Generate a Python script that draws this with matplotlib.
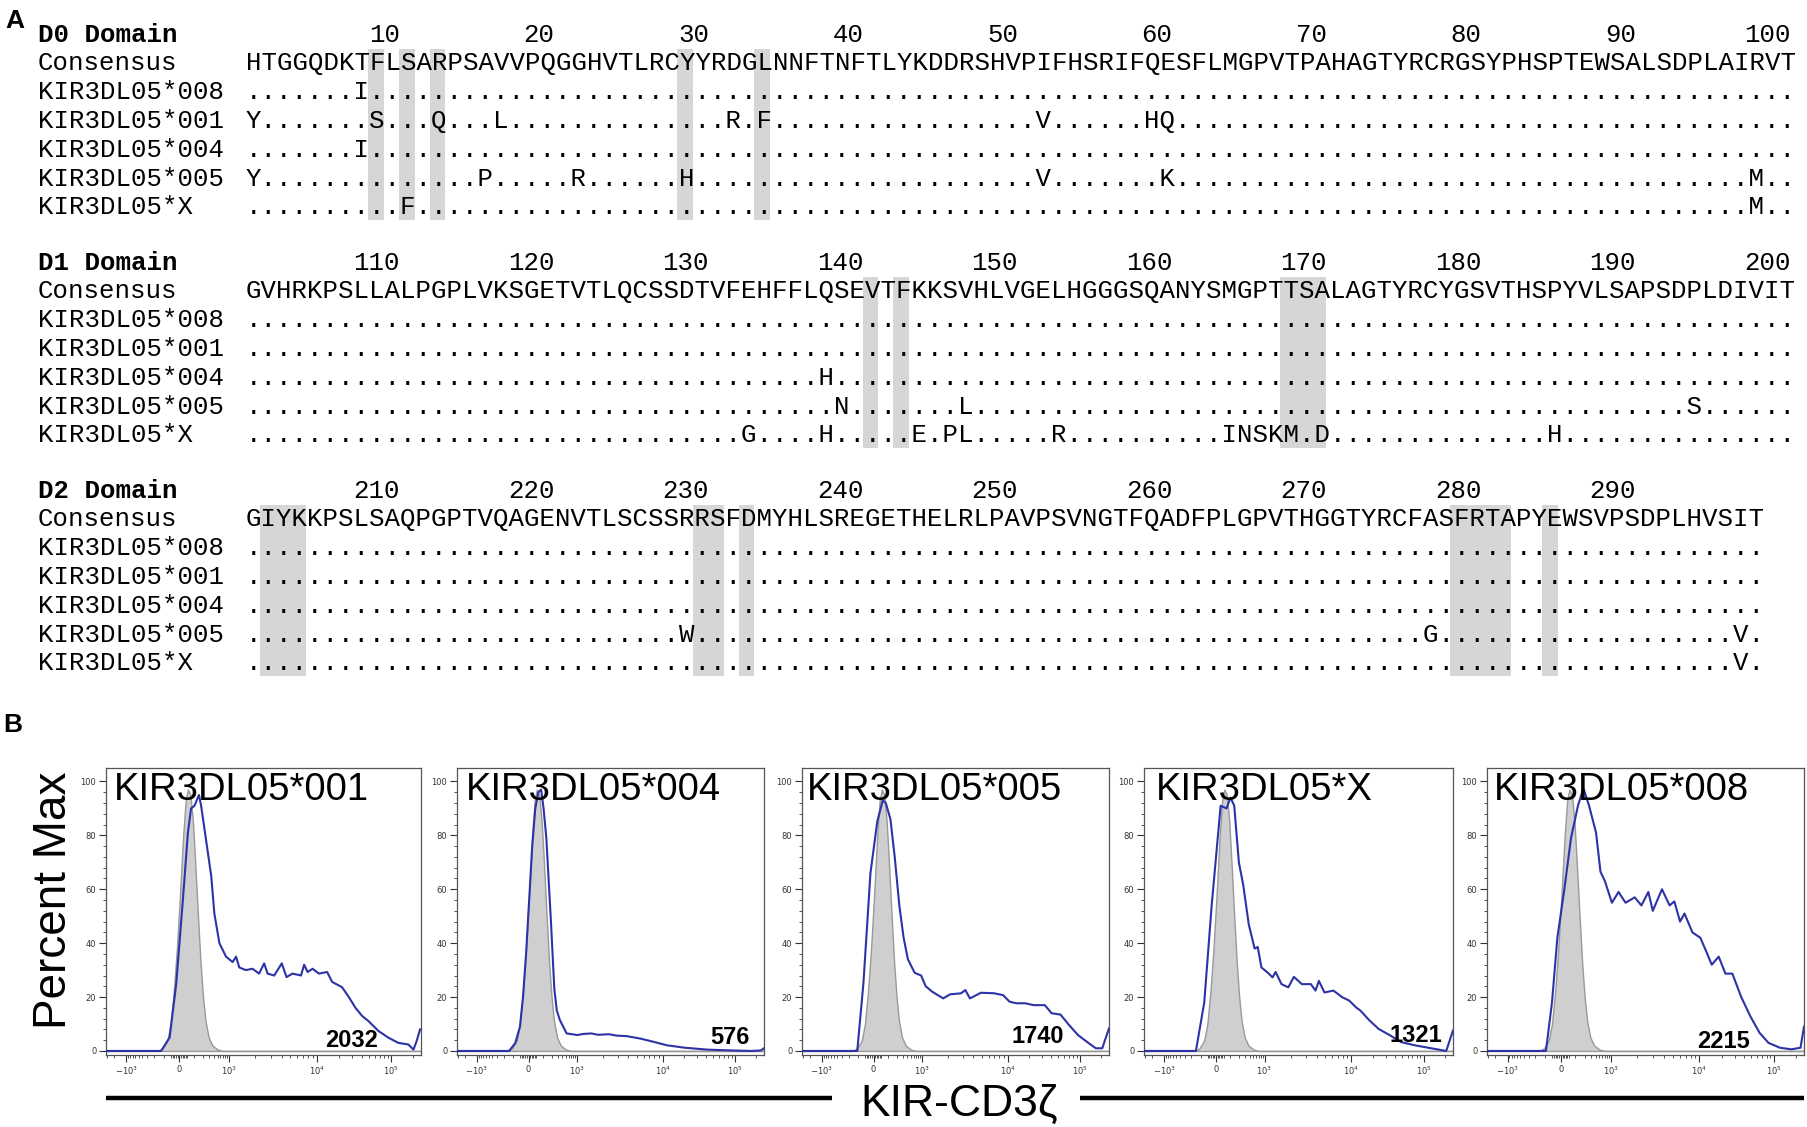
import numpy as np
import matplotlib
matplotlib.use('Agg')
import matplotlib.pyplot as plt
from matplotlib.patches import Rectangle
from matplotlib import font_manager

# ---------------- panel A: alignment ----------------
domains = ['D0 Domain', 'D1 Domain', 'D2 Domain']
domain_offset = [0, 100, 200]
consensus = [
    'HTGGQDKTFLSARPSAVVPQGGHVTLRCYYRDGLNNFTNFTLYKDDRSHVPIFHSRIFQESFLMGPVTPAHAGTYRCRGSYPHSPTEWSALSDPLAIRVT',
    'GVHRKPSLLALPGPLVKSGETVTLQCSSDTVFEHFFLQSEVTFKKSVHLVGELHGGGSQANYSMGPTTSALAGTYRCYGSVTHSPYVLSAPSDPLDIVIT',
    'GIYKKPSLSAQPGPTVQAGENVTLSCSSRRSFDMYHLSREGETHELRLPAVPSVNGTFQADFPLGPVTHGGTYRCFASFRTAPYEWSVPSDPLHVSIT',
]
alleles = ['KIR3DL05*008', 'KIR3DL05*001', 'KIR3DL05*004', 'KIR3DL05*005', 'KIR3DL05*X']

# substitutions per domain, position within domain (1-based)
subs_d0 = {
    'KIR3DL05*008': {8: 'I'},
    'KIR3DL05*001': {1: 'Y', 9: 'S', 13: 'Q', 17: 'L', 32: 'R', 34: 'F', 52: 'V', 59: 'H', 60: 'Q'},
    'KIR3DL05*004': {8: 'I'},
    'KIR3DL05*005': {1: 'Y', 16: 'P', 22: 'R', 29: 'H', 52: 'V', 60: 'K', 98: 'M'},
    'KIR3DL05*X': {11: 'F', 98: 'M'},
}
subs_d1 = {
    'KIR3DL05*008': {},
    'KIR3DL05*001': {},
    'KIR3DL05*004': {38: 'H'},
    'KIR3DL05*005': {39: 'N', 47: 'L', 94: 'S'},
    'KIR3DL05*X': {33: 'G', 38: 'H', 44: 'E', 46: 'P', 47: 'L', 53: 'R', 64: 'I', 65: 'N',
                   66: 'S', 67: 'K', 68: 'M', 70: 'D', 85: 'H'},
}
subs_d2 = {
    'KIR3DL05*008': {},
    'KIR3DL05*001': {},
    'KIR3DL05*004': {},
    'KIR3DL05*005': {29: 'W', 77: 'G', 97: 'V'},
    'KIR3DL05*X': {97: 'V'},
}
subs = [subs_d0, subs_d1, subs_d2]

# shaded columns (first, last) within each domain
bands = [
    [(9, 9), (11, 11), (13, 13), (29, 29), (34, 34)],
    [(41, 41), (43, 43), (68, 70)],
    [(2, 4), (30, 31), (33, 33), (79, 82), (85, 85)],
]

# ---------------- panel B: histograms ----------------
# x in display channels (0-100), y in percent of max
panel_names = ['KIR3DL05*001', 'KIR3DL05*004', 'KIR3DL05*005', 'KIR3DL05*X', 'KIR3DL05*008']
panel_counts = ['2032', '576', '1740', '1321', '2215']

ctrl_x = [0, 16.5, 18, 19.5, 20.5, 21.5, 22.5, 23.5, 24.5, 25.3, 26, 26.8, 27.6, 28.4, 29.2,
          30, 30.8, 31.6, 32.6, 33.8, 35.5, 37, 100]
ctrl_y = [0, 0, 1, 4, 10, 22, 38, 58, 80, 93, 97, 95, 85, 68, 50, 33, 20, 11, 5, 2, 0.5, 0, 0]

b001_x = [0, 17.5, 20.2, 22.3, 24.4, 26, 27, 28.1, 29.5, 30.2, 31.8, 33.4, 34.4, 36, 38.1, 40.2,
          41.3, 42.3, 44.4, 46.5, 48.6, 50.2, 51.3, 53.4, 55.8, 57.3, 59.2, 61.9, 62.9, 64, 65.6,
          67.6, 70.2, 71.8, 74.9, 77.1, 79.2, 81.3, 83.4, 86.5, 89.7, 92.8, 96, 97.6, 98.6, 99.7]
b001_y = [0, 0, 5, 25, 56, 81, 90, 91, 95, 91, 78, 65, 51, 40, 35, 33, 35, 31, 30, 30.5, 28.7,
          32.5, 28.7, 28, 32.5, 27.4, 28.7, 28, 32, 29.3, 30.5, 28.7, 29.3, 25.6, 23.7, 20, 16, 13,
          11, 7.4, 4.9, 3, 2.4, 0.5, 3.6, 8]

b004_x = [0, 17, 19, 20.5, 21.5, 22.5, 23.5, 24.5, 25.5, 26.5, 27.4, 28.2, 29.1, 30.6, 31.7, 32.5,
          33.5, 35.7, 39.3, 41, 43.7, 46, 49.5, 52, 55.3, 59.7, 64, 68.4, 74.2, 81.5, 88.8, 96,
          99, 100]
b004_y = [0, 0, 3, 9, 20, 36, 56, 76, 90, 96, 97, 90, 79, 48, 23, 15, 11.5, 6.5, 5.9, 6.3, 6.5,
          6.0, 6.2, 5.7, 5.5, 4.6, 3.4, 2.1, 1.2, 0.5, 0.2, 0, 0.2, 1]

b005_x = [0, 18, 20, 22.3, 24.5, 26.3, 27.3, 28.8, 30.2, 31.7, 33.1, 34.5, 36.7, 38.8, 40.3, 42.4,
          46, 48.2, 51.8, 53.2, 54.7, 58.3, 62.6, 65.5, 67.6, 69.8, 72.7, 75.5, 79.1, 81.3, 84.2,
          87, 89.9, 93.5, 95.7, 97.8, 100]
b005_y = [0, 0, 25, 66, 85, 93, 92, 86, 72, 54, 42, 34, 29, 28, 24, 22, 19.5, 21, 21.4, 22.6,
          19.5, 21.6, 21.4, 20.7, 18.3, 17.7, 17.7, 17, 17, 14, 13.5, 9.6, 5.9, 2.8, 1, 1, 8.4]

bX_x = [0, 16.8, 19.5, 21.9, 24.8, 26.7, 28, 29.2, 30.7, 32.1, 33.9, 35.8, 36.8, 38, 40.1, 41.6,
        42.6, 44.5, 46.7, 48.5, 51.1, 54, 55.5, 56.6, 58.4, 61.3, 64.2, 66.4, 68.6, 70, 73, 75.9,
        79.6, 83.2, 87.6, 93.4, 97.8, 100]
bX_y = [0, 0, 18, 54, 91, 90, 94, 91, 70, 61.7, 47, 38, 38.6, 31, 29, 27.3, 29.3, 24.8, 23.6,
        27.5, 24.8, 24.8, 22.4, 26, 21.7, 22.4, 19.9, 18.7, 16.2, 15, 11.3, 8.2, 5.8, 3.3, 2.1,
        0.9, 0, 7.6]

b008_x = [0, 18.6, 20.5, 22.2, 24.4, 26.5, 28.7, 30.4, 32.2, 34.4, 35.8, 37.2, 39.4, 41.5, 43.7,
          46.6, 48.7, 50.9, 52.3, 55.2, 57.6, 59.1, 60.9, 62.3, 64.8, 67.3, 69.5, 70.9, 73.1, 75.2,
          77.4, 80.2, 83.1, 86, 88.8, 92.4, 96, 98.9, 100]
b008_y = [0, 0, 18, 42, 60, 79, 91, 97.5, 91, 81, 66.5, 63, 55, 59, 55, 57, 54, 59, 52, 60, 54,
          55.5, 48, 51, 44, 42, 36, 32, 35, 28.7, 28.7, 20, 12.8, 6.7, 3, 1.2, 0.6, 1.2, 9]

blue_x = [b001_x, b004_x, b005_x, bX_x, b008_x]
blue_y = [b001_y, b004_y, b005_y, bX_y, b008_y]

# axis: intensity anchors -> channel
anchor_vals = [-3200, -1e3, 0, 1e3, 1e4, 1e5, 262143]
anchor_ch = [0, 6.5, 23.3, 39.0, 67.0, 90.5, 100]
major_vals = [-1e3, 0, 1e3, 1e4, 1e5]
major_labels = [r'$\mathregular{-10^3}$', '0', r'$\mathregular{10^3}$',
                r'$\mathregular{10^4}$', r'$\mathregular{10^5}$']


def to_channel(v):
    g = np.arcsinh(np.asarray(v, dtype=float) / 100.0)
    ga = np.arcsinh(np.asarray(anchor_vals, dtype=float) / 100.0)
    return np.interp(g, ga, anchor_ch)


minor_vals = ([-3000, -2000] + list(range(-900, 0, 100)) + list(range(-50, 60, 10))
              + list(range(100, 1000, 100)) + list(range(2000, 10000, 1000))
              + list(range(20000, 100000, 10000)) + [200000])

# ---------------- figure ----------------
W, H = 1807, 1127
fig = plt.figure(figsize=(W / 100, H / 100), dpi=100)
fig.patch.set_facecolor('white')

ax = fig.add_axes([0, 0, 1, 1])
ax.set_xlim(0, W)
ax.set_ylim(H, 0)
ax.axis('off')

mono = 'Liberation Mono'
fs = 18.5
x0 = 245.6       # left edge of first residue
pitch = 15.45    # width of a residue
label_x = 38
block_y = [34.5, 262.5, 490.5]
row_step = 28.8

for d in range(3):
    ty = block_y[d]
    ax.text(label_x, ty, domains[d], family=mono, weight='bold', fontsize=fs, va='center')
    n = len(consensus[d])
    for p in range(10, n + 1, 10):
        ax.text(x0 + p * pitch, ty, str(domain_offset[d] + p), family=mono, fontsize=fs,
                ha='right', va='center')
    cy = ty + row_step
    for a, b in bands[d]:
        ax.add_patch(Rectangle((x0 + (a - 1) * pitch - 1, cy - 14), (b - a + 1) * pitch,
                               row_step * 5 + 27, facecolor='#d6d6d6', edgecolor='none', zorder=0))
    ax.text(label_x, cy, 'Consensus', family=mono, fontsize=fs, va='center')
    ax.text(x0, cy, consensus[d], family=mono, fontsize=fs, va='center')
    for i, name in enumerate(alleles):
        y = cy + (i + 1) * row_step
        seq = ['.'] * n
        for pos, aa in subs[d][name].items():
            seq[pos - 1] = aa
        ax.text(label_x, y, name, family=mono, fontsize=fs, va='center')
        ax.text(x0, y, ''.join(seq), family=mono, fontsize=fs, va='center')

ax.text(15, 21, 'A', family='Liberation Sans', weight='bold', fontsize=19, ha='center', va='center')
ax.text(13, 725, 'B', family='Liberation Sans', weight='bold', fontsize=19, ha='center', va='center')

# panel B
names = {f.name for f in font_manager.fontManager.ttflist}
if 'Liberation Sans Narrow' in names:
    title_font, title_size = 'Liberation Sans Narrow', 31
else:
    title_font, title_size = 'Liberation Sans', 27.5

boxes = [(106, 421), (457, 764), (802, 1109), (1144, 1453), (1487, 1804)]
box_top, box_bottom = 768, 1055
count_pos = [(86.3, 1.5), (95.3, 2.7), (85.3, 2.8), (96.6, 3.3), (83.0, 1.2)]
title_x = [0.026, 0.03, 0.015, 0.04, 0.022]

for k, (l, r) in enumerate(boxes):
    hax = fig.add_axes([l / W, 1 - box_bottom / H, (r - l) / W, (box_bottom - box_top) / H])
    hax.fill_between(ctrl_x, ctrl_y, 0, facecolor='#cfcfcf', edgecolor='#999999', lw=1.0, zorder=2)
    hax.plot(blue_x[k], blue_y[k], color='#2d32a6', lw=1.5, zorder=3)
    hax.set_xlim(0, 100)
    hax.set_ylim(-1.5, 105)
    hax.set_xticks(to_channel(major_vals))
    hax.set_xticklabels(major_labels)
    hax.set_xticks(to_channel(minor_vals), minor=True)
    hax.set_yticks([0, 20, 40, 60, 80, 100])
    hax.set_yticks(np.arange(0, 101, 4), minor=True)
    hax.tick_params(which='major', length=5, width=0.8, labelsize=6, colors='#333333', pad=2)
    hax.tick_params(which='minor', length=2.5, width=0.6, colors='#333333')
    for s in hax.spines.values():
        s.set_color('#555555')
        s.set_linewidth(0.9)
    hax.text(title_x[k], 0.985, panel_names[k], transform=hax.transAxes, family=title_font,
             fontsize=title_size, ha='left', va='top', zorder=5)
    cx, cyy = count_pos[k]
    hax.text(cx, cyy, panel_counts[k], family='Liberation Sans', weight='bold',
             fontsize=17, ha='right', va='baseline', zorder=5)

ax.text(54, 900, 'Percent Max', family='Liberation Sans', fontsize=33, rotation=90,
        ha='center', va='center')
ax.plot([106, 832], [1098, 1098], color='black', lw=3.2, solid_capstyle='butt')
ax.plot([1080, 1804], [1098, 1098], color='black', lw=3.2, solid_capstyle='butt')
ax.text(959, 1104, 'KIR-CD3ζ', family='Liberation Sans', fontsize=32, ha='center', va='center')

fig.savefig('out.png', dpi=100, facecolor='white')
